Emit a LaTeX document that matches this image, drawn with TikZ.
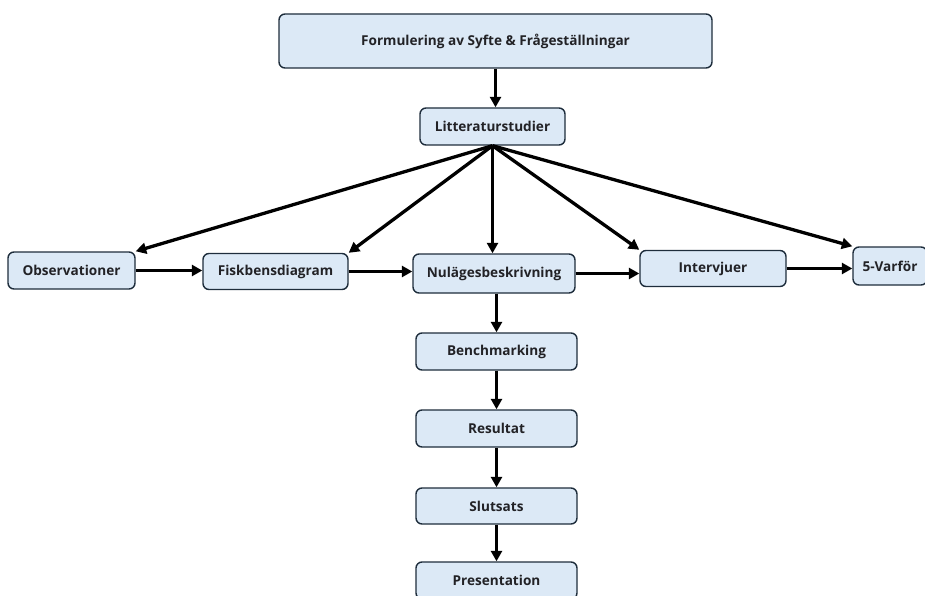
\documentclass[tikz,border=0pt]{standalone}
\usepackage{fontspec}
\setmainfont{Open Sans}
\usetikzlibrary{arrows.meta}
\definecolor{boxfill}{RGB}{220,233,246}
\definecolor{boxline}{RGB}{30,45,60}
\definecolor{boxtext}{RGB}{34,34,38}
\begin{document}
\begin{tikzpicture}[x=1pt,y=-1pt,
  stepbox/.style={draw=boxline, line width=1.4pt, fill=boxfill,
    rounded corners=6pt, inner sep=0pt, font=\bfseries\fontsize{13.6}{16}\selectfont,
    text=boxtext},
  flow/.style={line width=3.3pt, -{Triangle[length=10.5pt,width=11pt]}}]
\useasboundingbox (0,0) rectangle (925,596);
\clip (0,0) rectangle (925,596);
% boxes
\node[stepbox, minimum width=433pt, minimum height=54pt] (top) at (495.5,41) {Formulering av Syfte \& Frågeställningar};
\node[stepbox, minimum width=145pt, minimum height=37pt] (lit) at (492.5,126.5) {Litteraturstudier};
\node[stepbox, minimum width=127pt, minimum height=37pt] (obs) at (71.5,270.5) {Observationer};
\node[stepbox, minimum width=145pt, minimum height=36pt] (fisk) at (275.5,271.5) {Fiskbensdiagram};
\node[stepbox, minimum width=162pt, minimum height=39pt] (nul) at (494,273.5) {Nulägesbeskrivning};
\node[stepbox, minimum width=146pt, minimum height=36pt] (int) at (713,268.5) {Intervjuer};
\node[stepbox, minimum width=74pt, minimum height=38pt] (var) at (890,266) {5-Varför};
\node[stepbox, minimum width=161pt, minimum height=37pt] (bench) at (496.5,351.5) {Benchmarking};
\node[stepbox, minimum width=161pt, minimum height=37pt] (res) at (496.5,428.5) {Resultat};
\node[stepbox, minimum width=161pt, minimum height=36pt] (slut) at (496.5,506) {Slutsats};
\node[stepbox, minimum width=161pt, minimum height=37pt] (pres) at (496.5,580.5) {Presentation};
% connectors
\draw[flow] (top.south) -- (top.south |- lit.north);
\draw[flow] (lit.south) -- (obs.north east);
\draw[flow] (lit.south) -- (fisk.north east);
\draw[flow] (lit.south) -- (lit.south |- nul.north);
\draw[flow] (lit.south) -- (int.north west);
\draw[flow] (lit.south) -- (var.north west);
\draw[flow] (obs.east) -- (obs.east -| fisk.west);
\draw[flow] (fisk.east) -- (fisk.east -| nul.west);
\draw[flow] (nul.east) -- (nul.east -| int.west);
\draw[flow] (int.east) -- (int.east -| var.west);
\draw[flow] (bench.north |- nul.south) -- (bench.north);
\draw[flow] (bench.south) -- (res.north);
\draw[flow] (res.south) -- (slut.north);
\draw[flow] (slut.south) -- (pres.north);
\end{tikzpicture}
\end{document}
